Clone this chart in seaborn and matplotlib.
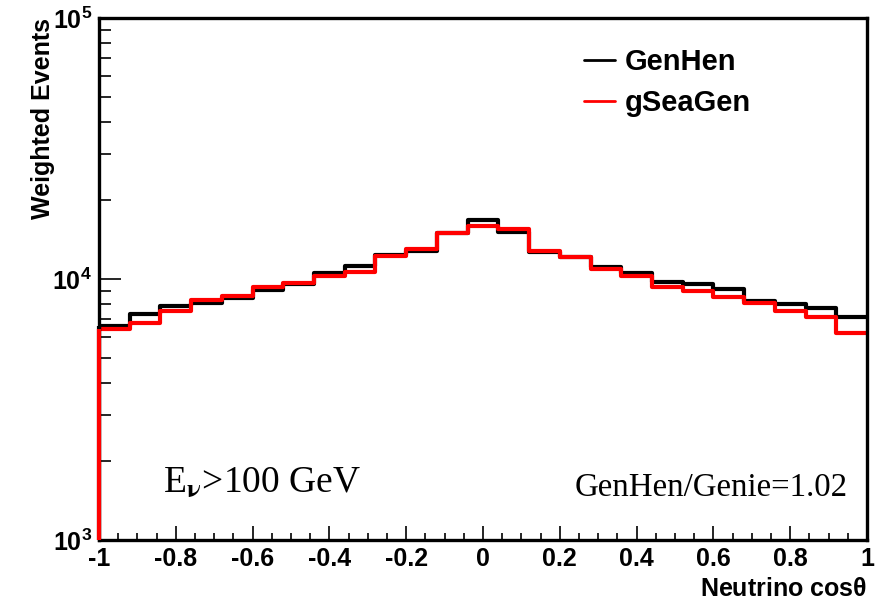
import numpy as np
import pandas as pd
import matplotlib
matplotlib.use("Agg")
import matplotlib.pyplot as plt
from matplotlib.ticker import MultipleLocator, LogLocator, NullFormatter
from matplotlib.lines import Line2D
import seaborn as sns

# ---------------- data ----------------
n_bins = 25
x_range = (-1.0, 1.0)
genhen = [6620, 7320, 7900, 8110, 8440, 9080, 9570, 10520, 11250, 12330,
          12830, 14970, 16770, 15180, 12720, 12180, 11150, 10520, 9770, 9540,
          9180, 8260, 8020, 7760, 7150]
gseagen = [6430, 6770, 7540, 8310, 8610, 9340, 9630, 10270, 10670, 12250,
           13030, 15050, 15920, 15540, 12830, 12180, 10890, 10270, 9340, 9000,
           8550, 8070, 7560, 7170, 6190]
series_names = ["GenHen", "gSeaGen"]
series_colors = ["black", "#ff0000"]
x_ticks = [-1, -0.8, -0.6, -0.4, -0.2, 0, 0.2, 0.4, 0.6, 0.8, 1]
x_tick_labels = ["-1", "-0.8", "-0.6", "-0.4", "-0.2", "0", "0.2", "0.4", "0.6", "0.8", "1"]
y_ticks = [1e3, 1e4, 1e5]
y_tick_labels = [r"10$^{3}$", r"10$^{4}$", r"10$^{5}$"]

bin_edges = np.linspace(x_range[0], x_range[1], n_bins + 1)
centers = 0.5 * (bin_edges[:-1] + bin_edges[1:])
df = pd.DataFrame({
    "cos": np.concatenate([centers, centers]),
    "w": np.concatenate([genhen, gseagen]).astype(float),
    "sample": [series_names[0]] * len(centers) + [series_names[1]] * len(centers),
})

# ---------------- style ----------------
sns.set_style("ticks")
plt.rcParams["font.family"] = ["Liberation Sans", "DejaVu Sans"]
plt.rcParams["font.weight"] = "bold"
plt.rcParams["text.color"] = "black"
plt.rcParams["axes.labelcolor"] = "black"
plt.rcParams["xtick.color"] = "black"
plt.rcParams["ytick.color"] = "black"
plt.rcParams["mathtext.fontset"] = "custom"
plt.rcParams["mathtext.rm"] = "Liberation Sans:bold"
plt.rcParams["mathtext.it"] = "Liberation Sans:bold"
plt.rcParams["mathtext.bf"] = "Liberation Sans:bold"

fig = plt.figure(figsize=(8.76, 6.01), dpi=100)
fig.patch.set_facecolor("white")
ax = fig.add_axes([99 / 876, 1 - 540 / 601, 768 / 876, 522 / 601])

for name, col in zip(series_names, series_colors):
    sub = df[df["sample"] == name]
    sns.histplot(data=sub, x="cos", weights="w", bins=n_bins, binrange=x_range,
                 element="step", fill=False, color=col, linewidth=3.0, ax=ax)

ax.set_yscale("log")
ax.set_xlim(-1, 1)
ax.set_ylim(1e3, 1e5)

# vertical edges of the histograms at the left boundary (down to the axis floor)
ax.vlines(bin_edges[0], 1e3, genhen[0], color=series_colors[0], lw=3.0, zorder=3, clip_on=False)
ax.vlines(bin_edges[0], 1e3, gseagen[0], color=series_colors[1], lw=3.0, zorder=3.1, clip_on=False)

# axes frame / ticks (ROOT-like)
for s in ax.spines.values():
    s.set_linewidth(2.4)
    s.set_color("black")
    s.set_visible(True)
ax.xaxis.set_major_locator(MultipleLocator(0.2))
ax.xaxis.set_minor_locator(MultipleLocator(0.05))
ax.set_xticks(x_ticks, labels=x_tick_labels)
ax.set_yticks(y_ticks, labels=y_tick_labels)
ax.yaxis.set_minor_locator(LogLocator(base=10, subs=np.arange(2, 10)))
ax.yaxis.set_minor_formatter(NullFormatter())
ax.tick_params(axis="x", which="major", direction="in", length=10, width=1.2,
               labelsize=18, pad=5, top=False, colors="black")
ax.tick_params(axis="x", which="minor", direction="in", length=5, width=1.2, top=False)
ax.tick_params(axis="y", which="major", direction="in", length=16, width=1.2,
               labelsize=18, pad=5, right=False, colors="black")
ax.tick_params(axis="y", which="minor", direction="in", length=8.5, width=1.2, right=False)
for lab in ax.get_xticklabels() + ax.get_yticklabels():
    lab.set_fontweight("bold")

ax.set_xlabel(r"Neutrino cos$\theta$", loc="right", fontsize=18, fontweight="bold",
              labelpad=4, color="black")
ax.set_ylabel("Weighted Events", loc="top", fontsize=18, fontweight="bold",
              labelpad=-2, color="black")

# legend
handles = [Line2D([0], [0], color=c, lw=2.0) for c in series_colors]
leg = fig.legend(handles, series_names, loc="upper left",
                 bbox_to_anchor=(558 / 876, 1 - 22 / 601), frameon=False,
                 handlelength=1.05, handletextpad=0.35, labelspacing=0.45,
                 prop={"family": "Liberation Sans", "weight": "bold", "size": 21})
for t in leg.get_texts():
    t.set_color("black")

# annotations (serif)
ax.text((163 - 99) / 768, (540 - 492) / 522, r"E$_{\mathrm{\nu}}$>100 GeV",
        transform=ax.transAxes, fontsize=27, family="Liberation Serif",
        fontweight="normal", math_fontfamily="stix", va="baseline", ha="left",
        color="black")
ax.text((575 - 99) / 768, (540 - 496) / 522, "GenHen/Genie=1.02",
        transform=ax.transAxes, fontsize=23.7, family="Liberation Serif",
        fontweight="normal", va="baseline", ha="left", color="black")

fig.savefig("out.png", dpi=100, facecolor="white")
